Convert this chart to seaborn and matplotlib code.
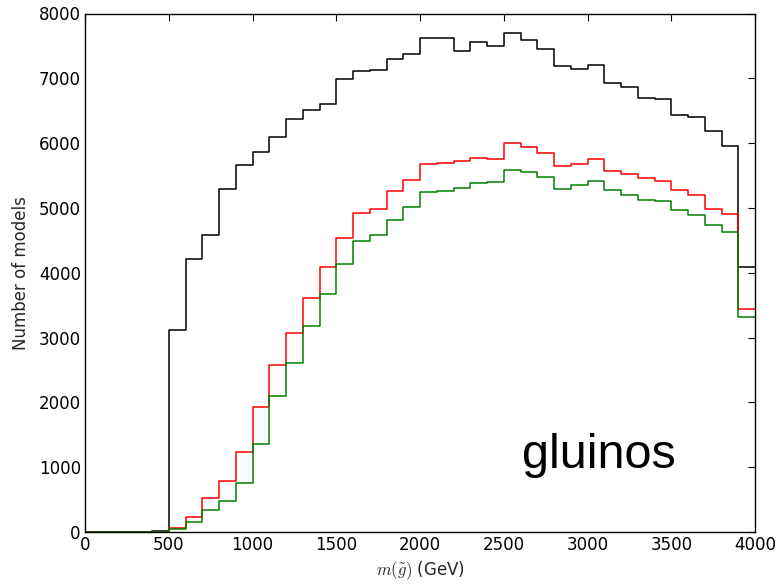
import numpy as np
import pandas as pd
import matplotlib
matplotlib.use("Agg")
import matplotlib.pyplot as plt
import seaborn as sns

# bin edges (GeV)
bin_edges = list(range(0, 4001, 100))
bin_centers = [e + 50 for e in bin_edges[:-1]]

# counts per 100 GeV bin
black_counts = [0, 0, 0, 0, 20, 3110, 4210, 4590, 5290, 5670,
                5870, 6090, 6370, 6505, 6600, 6985, 7115, 7132, 7300, 7370,
                7615, 7615, 7420, 7554, 7502, 7702, 7585, 7451, 7185, 7138,
                7205, 6923, 6871, 6702, 6686, 6440, 6410, 6189, 5958, 4088]
red_counts = [0, 0, 0, 0, 0, 66, 230, 528, 785, 1230,
              1928, 2574, 3077, 3610, 4095, 4538, 4923, 4989, 5256, 5425,
              5677, 5692, 5717, 5774, 5754, 6005, 5943, 5840, 5651, 5677,
              5754, 5574, 5528, 5462, 5420, 5271, 5205, 4985, 4908, 3440]
green_counts = [0, 0, 0, 0, 0, 46, 148, 343, 482, 758,
                1364, 2097, 2610, 3179, 3665, 4128, 4497, 4589, 4809, 5009,
                5251, 5266, 5312, 5385, 5394, 5585, 5548, 5471, 5292, 5354,
                5420, 5271, 5200, 5123, 5108, 4974, 4892, 4743, 4625, 3312]

series_names = ["all", "red", "green"]
series_colors = ["black", "#ff0000", "#008000"]

sns.set_style("white")
plt.rcParams["font.family"] = ["DejaVu Sans"]
plt.rcParams["mathtext.fontset"] = "cm"
plt.rcParams["xtick.direction"] = "in"
plt.rcParams["ytick.direction"] = "in"

fig = plt.figure(figsize=(7.79, 5.84), dpi=100)
ax = fig.add_axes([85 / 779, 1 - 532 / 584, 670 / 779, (532 - 13.5) / 584])

for name, counts, col in zip(series_names, [black_counts, red_counts, green_counts], series_colors):
    df = pd.DataFrame({"x": bin_centers, "w": counts})
    sns.histplot(data=df, x="x", weights="w", bins=bin_edges, element="step",
                 fill=False, color=col, linewidth=1.1, ax=ax)

ax.set_xlim(0, 4000)
ax.set_ylim(0, 8000)
ax.set_xticks(range(0, 4001, 500))
ax.set_yticks(range(0, 8001, 1000))
ax.tick_params(axis="both", which="major", labelsize=12, length=5, width=0.8,
               top=True, right=True, direction="in", colors="black", pad=3)
for s in ax.spines.values():
    s.set_visible(True)
    s.set_color("black")
    s.set_linewidth(1.0)

ax.set_xlabel(r"$m(\tilde{g})$ (GeV)", fontsize=12, labelpad=4)
ax.set_ylabel("Number of models", fontsize=12, labelpad=6)

ax.text(3070, 990, "gluinos", fontsize=35, family=["Liberation Sans", "DejaVu Sans"],
        ha="center", va="baseline", color="black")

fig.savefig("out.png", dpi=100)
